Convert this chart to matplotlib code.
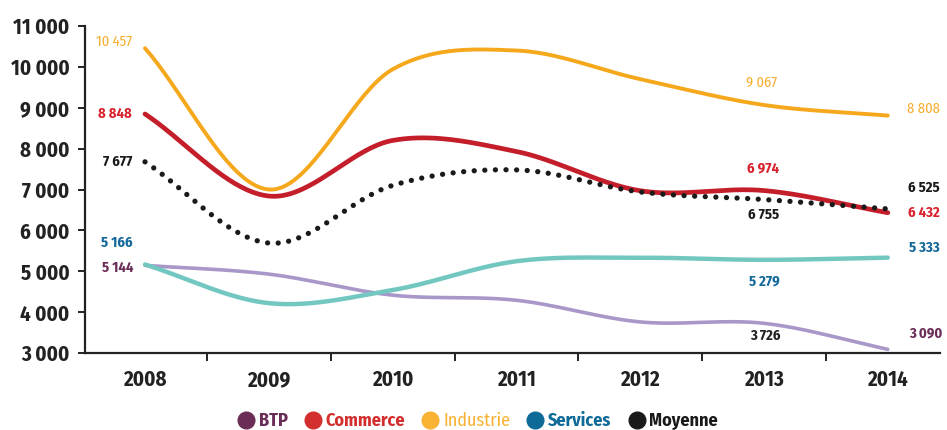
import numpy as np
import matplotlib
matplotlib.use("Agg")
import matplotlib.pyplot as plt
from matplotlib.lines import Line2D

plt.rcParams['font.family'] = ['Fira Sans Condensed', 'Asap Condensed', 'DejaVu Sans']

years = ["2008", "2009", "2010", "2011", "2012", "2013", "2014"]
y_ticks = [3000, 4000, 5000, 6000, 7000, 8000, 9000, 10000, 11000]

industrie = [10457, 7000, 9940, 10400, 9700, 9067, 8808]
commerce = [8848, 6840, 8200, 7930, 6970, 6974, 6432]
moyenne = [7677, 5690, 7100, 7480, 6940, 6755, 6525]
services = [5166, 4220, 4540, 5245, 5330, 5279, 5333]
btp = [5144, 4930, 4415, 4290, 3760, 3726, 3090]

def fmt(v):
    return f"{v:,}".replace(",", " ")

def smooth(yv, n=40):
    yv = np.asarray(yv, float)
    x = np.arange(len(yv), dtype=float)
    m = np.zeros_like(yv)
    m[1:-1] = (yv[2:] - yv[:-2]) / 2
    m[0] = yv[1] - yv[0]
    m[-1] = yv[-1] - yv[-2]
    xs, ys = [], []
    for i in range(len(yv) - 1):
        t = np.linspace(0, 1, n, endpoint=(i == len(yv) - 2))
        h00 = 2*t**3 - 3*t**2 + 1
        h10 = t**3 - 2*t**2 + t
        h01 = -2*t**3 + 3*t**2
        h11 = t**3 - t**2
        ys.append(h00*yv[i] + h10*m[i] + h01*yv[i+1] + h11*m[i+1])
        xs.append(x[i] + t)
    return np.concatenate(xs), np.concatenate(ys)

fig = plt.figure(figsize=(9.47, 4.30), dpi=100)
W, H = 947, 430
ax = fig.add_axes([85/W, 1-353/H, (940-85)/W, (353-26)/H])
step = 123.8
ax.set_xlim(-(145-85)/step, (940-145)/step)
ax.set_ylim(3000, 11000)

c_ind_line, c_ind_txt = "#F5A81C", "#F7AE2E"
c_com_line, c_com_txt = "#C41E2A", "#D8232F"
c_moy = "#1A1A1A"
c_ser_line, c_ser_txt = "#72C8C1", "#14699A"
c_btp_line, c_btp_txt = "#A897C8", "#6A2D57"

xs, ys = smooth(btp); ax.plot(xs, ys, color=c_btp_line, lw=2.6, solid_capstyle='round', zorder=2)
xs, ys = smooth(services); ax.plot(xs, ys, color=c_ser_line, lw=3.2, solid_capstyle='round', zorder=2)
xs, ys = smooth(industrie); ax.plot(xs, ys, color=c_ind_line, lw=2.8, solid_capstyle='round', zorder=3)
xs, ys = smooth(commerce); ax.plot(xs, ys, color=c_com_line, lw=3.4, solid_capstyle='round', zorder=3)
xs, ys = smooth(moyenne, n=200)
ax.plot(xs, ys, color=c_moy, lw=3.8, linestyle=(0, (0.01, 2.0)), dash_capstyle='round', zorder=4)

for s in ['top', 'right']:
    ax.spines[s].set_visible(False)
ax.spines['left'].set_bounds(3000, 11000)
ax.spines['left'].set_linewidth(1.6)
ax.spines['bottom'].set_linewidth(1.6)
ax.spines['left'].set_color("#222222")
ax.spines['bottom'].set_color("#222222")

ax.set_yticks(y_ticks)
ax.set_yticklabels([fmt(v) for v in y_ticks], fontsize=15, fontweight='bold', color="#222222")
ax.tick_params(axis='y', length=5, width=1.4, pad=6, color="#222222")
ax.set_xticks(range(len(years)))
ax.set_xticklabels(years, fontsize=15, fontweight='bold', color="#222222")
ax.tick_params(axis='x', length=0, pad=12)
ax.set_xticks(np.arange(len(years) - 1) + 0.5, minor=True)
ax.tick_params(axis='x', which='minor', length=6, width=1.4, color="#222222")

PX = 72 / 100.0
def lab(i, v, text, color, dx, dy, ha, weight='bold'):
    ax.annotate(text, xy=(i, v), xytext=(dx*PX, dy*PX), textcoords='offset points',
                ha=ha, va='center', fontsize=10.5, color=color, fontweight=weight,
                annotation_clip=False, zorder=5)

# 2008 labels
lab(0, industrie[0], fmt(industrie[0]), c_ind_txt, -13, 6, 'right', 'normal')
lab(0, commerce[0], fmt(commerce[0]), c_com_txt, -13, 0, 'right')
lab(0, moyenne[0], fmt(moyenne[0]), c_moy, -13, 0, 'right')
lab(0, services[0], fmt(services[0]), c_ser_txt, -12, 22, 'right')
lab(0, btp[0], fmt(btp[0]), c_btp_txt, -12, -3, 'right')
# 2013 labels
lab(5, industrie[5], fmt(industrie[5]), c_ind_txt, -2, 22, 'center', 'normal')
lab(5, commerce[5], fmt(commerce[5]), c_com_txt, -1, 22, 'center')
lab(5, moyenne[5], fmt(moyenne[5]), c_moy, 0, -15, 'center')
lab(5, services[5], fmt(services[5]), c_ser_txt, 0, -22, 'center')
lab(5, btp[5], fmt(btp[5]), "#222222", 1, -12, 'center')
# 2014 labels
lab(6, industrie[6], fmt(industrie[6]), c_ind_txt, 19, 7, 'left', 'normal')
lab(6, moyenne[6], fmt(moyenne[6]), c_moy, 20, 21, 'left')
lab(6, commerce[6], fmt(commerce[6]), c_com_txt, 20, 0, 'left')
lab(6, services[6], fmt(services[6]), c_ser_txt, 21, 10, 'left')
lab(6, btp[6], fmt(btp[6]), c_btp_txt, 21, 16, 'left')

names = ["BTP", "Commerce", "Industrie", "Services", "Moyenne"]
mcols = ["#6A2D57", "#D32F2F", "#F9B233", "#0E6A97", "#1A1A1A"]
tcols = ["#6A2D57", "#D32F2F", "#F9B233", "#0E6A97", "#1A1A1A"]
handles = [Line2D([], [], marker='o', linestyle='none', markersize=12, color=c) for c in mcols]
leg = fig.legend(handles, names, loc='center', bbox_to_anchor=(478/W, 9/H), ncol=5, frameon=False,
                 handletextpad=0.25, columnspacing=0.95, handlelength=0.9, prop={'size': 13, 'weight': 'bold'})
for t, c, n in zip(leg.get_texts(), tcols, names):
    t.set_color(c)
    if n == "Industrie":
        t.set_fontweight('normal')

fig.savefig("out.png", dpi=100)
